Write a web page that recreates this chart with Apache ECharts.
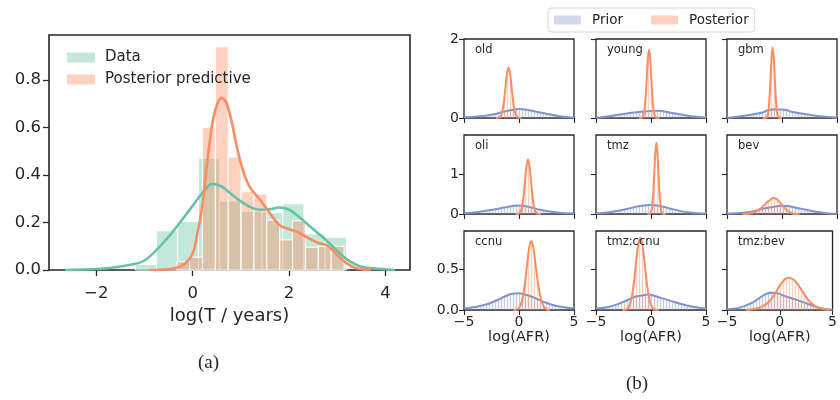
<!DOCTYPE html>
<html>
<head>
<meta charset="utf-8">
<script src="https://cdn.jsdelivr.net/npm/echarts@6/dist/echarts.min.js"></script>
<style>
  html, body { margin: 0; padding: 0; background: #fff; }
  #chart { width: 840px; height: 400px; }
</style>
</head>
<body>
<div id="chart"></div>
<script>
// ---- panel (a): histograms + KDE ----
const dataEdges = [-1.19, -0.75, -0.31, 0.12, 0.56, 1.0, 1.44, 1.87, 2.31, 2.75, 3.19];
const dataHeights = [0.024, 0.165, 0.204, 0.469, 0.29, 0.246, 0.242, 0.279, 0.152, 0.138];
const postEdges = [-0.33, -0.063, 0.204, 0.471, 0.738, 1.005, 1.272, 1.539, 1.806, 2.073, 2.34, 2.607, 2.874, 3.141];
const postHeights = [0.035, 0.054, 0.6, 0.94, 0.476, 0.33, 0.32, 0.21, 0.127, 0.207, 0.096, 0.099, 0.1];

const dataKde = [[-2.65, 0], [-2, 0.004], [-1.5, 0.015], [-1, 0.04], [-0.5, 0.14], [0, 0.27], [0.2, 0.324],
  [0.4, 0.363], [0.6, 0.352], [0.8, 0.32], [1.0, 0.289], [1.2, 0.265], [1.4, 0.254], [1.6, 0.256],
  [1.8, 0.263], [2.0, 0.254], [2.2, 0.225], [2.4, 0.19], [2.6, 0.155], [2.8, 0.12], [3.0, 0.08],
  [3.2, 0.045], [3.5, 0.014], [4.0, 0.003], [4.2, 0]];
const postKde = [[-0.9, 0], [-0.5, 0.003], [-0.2, 0.02], [0, 0.07], [0.1, 0.155], [0.2, 0.27], [0.3, 0.45],
  [0.4, 0.605], [0.5, 0.693], [0.6, 0.725], [0.7, 0.704], [0.8, 0.634], [0.9, 0.535], [1.0, 0.45],
  [1.1, 0.387], [1.2, 0.345], [1.4, 0.296], [1.6, 0.24], [1.8, 0.19], [2.0, 0.172], [2.2, 0.158],
  [2.4, 0.134], [2.6, 0.115], [2.8, 0.103], [3.0, 0.063], [3.2, 0.028], [3.4, 0.007], [3.7, 0]];

const leftXTicks = [-2, 0, 2, 4];
const leftYTicks = [0, 0.2, 0.4, 0.6, 0.8];

// ---- panel (b): prior / posterior per group ----
const panelNames = ['old', 'young', 'gbm', 'oli', 'tmz', 'bev', 'ccnu', 'tmz:ccnu', 'tmz:bev'];

const priorOld = [[-5, 0.01], [-4, 0.03], [-3, 0.06], [-2.2, 0.1], [-1.5, 0.15], [-0.7, 0.2], [-0.1, 0.225],
  [0.7, 0.21], [1.4, 0.17], [2.2, 0.125], [3, 0.08], [3.7, 0.045], [4.5, 0.02], [5, 0.01]];
const postOld = [[-2.1, 0], [-1.85, 0.01], [-1.7, 0.035], [-1.55, 0.13], [-1.4, 0.35], [-1.25, 0.72], [-1.1, 1.11],
  [-0.95, 1.28], [-0.8, 1.11], [-0.65, 0.72], [-0.5, 0.35], [-0.35, 0.13], [-0.2, 0.035], [-0.05, 0.01], [0.2, 0]];
const priorYoung = [[-5, 0.005], [-4, 0.04], [-2.8, 0.09], [-1.55, 0.14], [-0.64, 0.165], [0.58, 0.185], [1, 0.175],
  [1.8, 0.135], [2.87, 0.08], [3.9, 0.035], [5, 0.008]];
const postYoung = [[-1.1, 0], [-0.88, 0.004], [-0.78, 0.02], [-0.68, 0.076], [-0.58, 0.23], [-0.48, 0.56], [-0.38, 1.05],
  [-0.28, 1.53], [-0.18, 1.73], [-0.08, 1.53], [0.02, 1.05], [0.12, 0.56], [0.22, 0.23], [0.32, 0.076],
  [0.42, 0.02], [0.52, 0.004], [0.75, 0]];
const priorGbm = [[-5, 0.005], [-3.9, 0.04], [-2.7, 0.09], [-1.77, 0.14], [-1.3, 0.195], [-0.85, 0.215], [-0.1, 0.215],
  [0.37, 0.2], [0.98, 0.15], [1.9, 0.11], [2.8, 0.07], [3.7, 0.035], [5, 0.005]];
const postGbm = [[-1.7, 0], [-1.45, 0.007], [-1.35, 0.038], [-1.25, 0.152], [-1.15, 0.447], [-1.05, 0.966], [-0.95, 1.53],
  [-0.85, 1.79], [-0.75, 1.53], [-0.65, 0.966], [-0.55, 0.447], [-0.45, 0.152], [-0.35, 0.038], [-0.25, 0.007], [0, 0]];
const priorOli = [[-5, 0.02], [-3.9, 0.045], [-2.7, 0.095], [-1.77, 0.14], [-0.85, 0.19], [-0.24, 0.215], [0.37, 0.205],
  [1.13, 0.165], [1.9, 0.105], [2.8, 0.062], [3.7, 0.03], [5, 0.01]];
const postOli = [[-0.3, 0], [-0.08, 0.006], [0.07, 0.029], [0.22, 0.117], [0.37, 0.344], [0.52, 0.745], [0.67, 1.18],
  [0.82, 1.38], [0.97, 1.18], [1.12, 0.745], [1.27, 0.344], [1.42, 0.117], [1.57, 0.029], [1.72, 0.006], [2.0, 0]];
const priorTmz = [[-5, 0.01], [-4, 0.035], [-3, 0.08], [-2, 0.14], [-1, 0.2], [0, 0.225], [1, 0.19], [2, 0.12],
  [3, 0.06], [4, 0.025], [5, 0.008]];
const postTmz = [[-0.35, 0], [-0.11, 0.007], [-0.01, 0.038], [0.09, 0.153], [0.19, 0.45], [0.29, 0.97], [0.39, 1.54],
  [0.49, 1.8], [0.59, 1.54], [0.69, 0.97], [0.79, 0.45], [0.89, 0.153], [0.99, 0.038], [1.09, 0.007], [1.35, 0]];
const priorBev = [[-5, 0.008], [-3.9, 0.025], [-2.7, 0.065], [-1.77, 0.13], [-0.85, 0.175], [-0.1, 0.21], [0.5, 0.2],
  [1.28, 0.16], [2.2, 0.105], [3.1, 0.055], [4, 0.02], [5, 0.005]];
const postBev = [[-3.6, 0], [-3.2, 0.003], [-2.8, 0.02], [-2.4, 0.06], [-2.0, 0.13], [-1.6, 0.23], [-1.2, 0.33],
  [-0.8, 0.4], [-0.5, 0.38], [-0.2, 0.3], [0.1, 0.2], [0.4, 0.11], [0.7, 0.045], [1.0, 0.012], [1.3, 0.002], [1.6, 0]];
const priorCcnu = [[-5, 0.02], [-3.85, 0.04], [-2.93, 0.07], [-2, 0.12], [-1.25, 0.17], [-0.64, 0.2], [-0.03, 0.205],
  [0.73, 0.185], [1.5, 0.145], [2.26, 0.1], [3, 0.065], [3.8, 0.04], [5, 0.02]];
const postCcnu = [[-0.5, 0], [-0.28, 0.003], [-0.08, 0.014], [0.12, 0.05], [0.32, 0.139], [0.52, 0.306], [0.72, 0.54],
  [0.92, 0.76], [1.12, 0.85], [1.32, 0.76], [1.52, 0.54], [1.72, 0.34], [1.92, 0.18], [2.12, 0.08], [2.32, 0.03],
  [2.52, 0.008], [2.8, 0]];
const priorTmzCcnu = [[-5, 0.02], [-4, 0.035], [-3.08, 0.07], [-2.16, 0.12], [-1.55, 0.16], [-0.95, 0.175], [-0.18, 0.192],
  [0.27, 0.176], [1.04, 0.143], [2.1, 0.1], [2.87, 0.07], [3.6, 0.045], [5, 0.015]];
const postTmzCcnu = [[-2.6, 0], [-2.37, 0.003], [-2.17, 0.015], [-1.97, 0.052], [-1.77, 0.146], [-1.57, 0.32], [-1.37, 0.57],
  [-1.17, 0.8], [-0.97, 0.89], [-0.77, 0.8], [-0.57, 0.57], [-0.37, 0.32], [-0.17, 0.146], [0.03, 0.052],
  [0.23, 0.015], [0.43, 0.003], [0.7, 0]];
const priorTmzBev = [[-5, 0.008], [-3.8, 0.029], [-2.6, 0.09], [-1.67, 0.172], [-0.9, 0.213], [-0.15, 0.205], [0.45, 0.172],
  [1.36, 0.135], [2.27, 0.094], [3.2, 0.05], [4.1, 0.016], [5, 0.004]];
const postTmzBev = [[-3.2, 0], [-2.9, 0.004], [-2.0, 0.025], [-1.2, 0.082], [-0.6, 0.172], [0, 0.3], [0.45, 0.377],
  [0.82, 0.398], [1.36, 0.369], [1.97, 0.266], [2.58, 0.143], [3.33, 0.05], [4.1, 0.012], [4.7, 0]];

const priorCurves = [priorOld, priorYoung, priorGbm, priorOli, priorTmz, priorBev, priorCcnu, priorTmzCcnu, priorTmzBev];
const posteriorCurves = [postOld, postYoung, postGbm, postOli, postTmz, postBev, postCcnu, postTmzCcnu, postTmzBev];

const rightXTicks = [-5, 0, 5];
const rowYTicks = [[0, 2], [0, 1], [0, 0.5]];
const rowYMax = [2.0, 1.99, 0.974];

// ---- styling ----
const INK = '#262626';
const FONT = 'DejaVu Sans';
const GREEN = '#66c2a5';
const ORANGE = '#fc8d62';
const BLUE = '#8da0cb';
const minus = v => String(v).replace('-', '\u2212');

// striped fill to mimic the thin histogram bins under the small KDEs
function stripes(color, bg) {
  const c = document.createElement('canvas');
  c.width = 3; c.height = 4;
  const g = c.getContext('2d');
  g.fillStyle = bg; g.fillRect(0, 0, 3, 4);
  g.fillStyle = color; g.fillRect(0, 0, 1, 4);
  return { image: c, repeat: 'repeat' };
}
const priorFill = stripes('rgba(141,160,203,0.45)', 'rgba(141,160,203,0.10)');
const postFill = stripes('rgba(252,141,98,0.35)', 'rgba(252,141,98,0.06)');

const grids = [{ left: 49, top: 35, width: 361, height: 235, show: true, borderColor: INK, borderWidth: 1.6, backgroundColor: 'transparent' }];
const xAxes = [{
  gridIndex: 0, type: 'value', min: -2.98, max: 4.51,
  axisLine: { show: false, onZero: false }, splitLine: { show: false },
  axisTick: { customValues: leftXTicks, length: 6, lineStyle: { color: INK, width: 1.3 } },
  axisLabel: { customValues: leftXTicks, margin: 15, color: INK, fontSize: 16.5, fontFamily: FONT, formatter: v => minus(v) },
  name: 'log(T / years)', nameLocation: 'middle', nameGap: 35,
  nameTextStyle: { color: INK, fontSize: 18, fontFamily: FONT }
}];
const yAxes = [{
  gridIndex: 0, type: 'value', min: 0, max: 0.99,
  axisLine: { show: false, onZero: false }, splitLine: { show: false },
  axisTick: { customValues: leftYTicks, length: 6, lineStyle: { color: INK, width: 1.3 } },
  axisLabel: { customValues: leftYTicks, margin: 8, color: INK, fontSize: 16.5, fontFamily: FONT, formatter: v => v.toFixed(1) }
}];

const histRender = (params, api) => {
  const p0 = api.coord([api.value(0), api.value(2)]);
  const p1 = api.coord([api.value(1), 0]);
  return {
    type: 'rect',
    shape: { x: p0[0], y: p0[1], width: p1[0] - p0[0], height: p1[1] - p0[1] },
    style: api.style({ stroke: '#fff', lineWidth: 1 })
  };
};
const binTriples = (edges, heights) => heights.map((h, i) => [edges[i], edges[i + 1], h]);

const series = [
  {
    name: 'Data', type: 'custom', xAxisIndex: 0, yAxisIndex: 0, renderItem: histRender,
    itemStyle: { color: 'rgba(102,194,165,0.4)' }, encode: { x: [0, 1], y: 2 },
    data: binTriples(dataEdges, dataHeights), z: 1
  },
  {
    name: 'Posterior predictive', type: 'custom', xAxisIndex: 0, yAxisIndex: 0, renderItem: histRender,
    itemStyle: { color: 'rgba(252,141,98,0.4)' }, encode: { x: [0, 1], y: 2 },
    data: binTriples(postEdges, postHeights), z: 2
  },
  {
    name: 'dataKde', type: 'line', xAxisIndex: 0, yAxisIndex: 0, data: dataKde, showSymbol: false,
    smooth: 0.3, lineStyle: { color: GREEN, width: 2.6 }, itemStyle: { color: GREEN }, z: 3
  },
  {
    name: 'postKde', type: 'line', xAxisIndex: 0, yAxisIndex: 0, data: postKde, showSymbol: false,
    smooth: 0.3, lineStyle: { color: ORANGE, width: 2.6 }, itemStyle: { color: ORANGE }, z: 4
  }
];

const colLeft = [464, 596, 727];
const rowTop = [39, 135, 231];
const graphics = [];
panelNames.forEach((name, i) => {
  const r = Math.floor(i / 3), c = i % 3, g = i + 1;
  grids.push({
    left: colLeft[c], top: rowTop[r], width: 110, height: 79,
    show: true, borderColor: INK, borderWidth: 1.3, backgroundColor: 'transparent'
  });
  const bottom = r === 2;
  xAxes.push({
    gridIndex: g, type: 'value', min: -5, max: 5,
    axisLine: { show: false, onZero: false }, splitLine: { show: false },
    axisTick: { customValues: rightXTicks, length: 5, lineStyle: { color: INK, width: 1.1 } },
    axisLabel: { show: bottom, customValues: rightXTicks, margin: 5, color: INK, fontSize: 14, fontFamily: FONT, formatter: v => minus(v) },
    name: bottom ? 'log(AFR)' : '', nameLocation: 'middle', nameGap: 19,
    nameTextStyle: { color: INK, fontSize: 14.5, fontFamily: FONT }
  });
  yAxes.push({
    gridIndex: g, type: 'value', min: 0, max: rowYMax[r],
    axisLine: { show: false, onZero: false }, splitLine: { show: false },
    axisTick: { customValues: rowYTicks[r], length: 5, lineStyle: { color: INK, width: 1.1 } },
    axisLabel: {
      show: c === 0, customValues: rowYTicks[r], margin: 5, color: INK, fontSize: 14, fontFamily: FONT,
      formatter: v => (r === 2 ? v.toFixed(1) : String(v))
    }
  });
  series.push({
    name: 'Prior', type: 'line', xAxisIndex: g, yAxisIndex: g, data: priorCurves[i], showSymbol: false,
    smooth: 0.3, lineStyle: { color: '#7f93cc', width: 2 }, itemStyle: { color: BLUE },
    areaStyle: { color: priorFill, opacity: 1 }, z: 2
  });
  series.push({
    name: 'Posterior', type: 'line', xAxisIndex: g, yAxisIndex: g, data: posteriorCurves[i], showSymbol: false,
    smooth: 0.3, lineStyle: { color: ORANGE, width: 2 }, itemStyle: { color: ORANGE },
    areaStyle: { color: postFill, opacity: 1 }, z: 3
  });
  graphics.push({
    type: 'text', left: colLeft[c] + 11, top: rowTop[r] + 5, z: 10,
    style: { text: name, fill: INK, font: '11.5px "DejaVu Sans"' }
  });
});

graphics.push({ type: 'text', left: 198, top: 354, style: { text: '(a)', fill: INK, font: '19px "Liberation Serif"' } });
graphics.push({ type: 'text', left: 626, top: 375, style: { text: '(b)', fill: INK, font: '19px "Liberation Serif"' } });

const chart = echarts.init(document.getElementById('chart'), null, { renderer: 'canvas' });
chart.setOption({
  animation: false,
  backgroundColor: '#fff',
  grid: grids,
  xAxis: xAxes,
  yAxis: yAxes,
  legend: [
    {
      orient: 'vertical', left: 62, top: 45, itemWidth: 28, itemHeight: 10, itemGap: 7, selectedMode: false,
      textStyle: { color: INK, fontSize: 15, fontFamily: FONT, lineHeight: 15, padding: [0, 0, 0, 5] },
      data: [
        { name: 'Data', icon: 'rect', itemStyle: { color: 'rgba(102,194,165,0.4)' } },
        { name: 'Posterior predictive', icon: 'rect', itemStyle: { color: 'rgba(252,141,98,0.4)' } }
      ]
    },
    {
      orient: 'horizontal', left: 548, top: 8, itemWidth: 27, itemHeight: 9, itemGap: 28, selectedMode: false,
      padding: [5, 6, 5, 6], borderColor: '#d6d6d6', borderWidth: 1, borderRadius: 3,
      textStyle: { color: INK, fontSize: 13.5, fontFamily: FONT, padding: [0, 0, 0, 6] },
      data: [
        { name: 'Prior', icon: 'rect', itemStyle: { color: 'rgba(141,160,203,0.4)' } },
        { name: 'Posterior', icon: 'rect', itemStyle: { color: 'rgba(252,141,98,0.4)' } }
      ]
    }
  ],
  graphic: graphics,
  series: series
});
</script>
</body>
</html>
